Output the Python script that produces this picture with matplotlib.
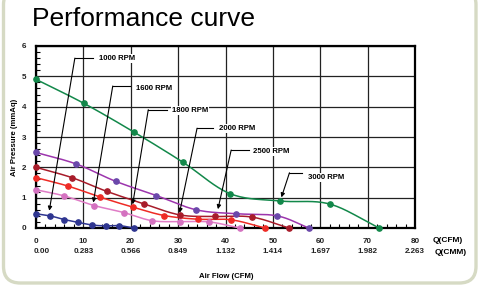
import matplotlib.pyplot as plt
import numpy as np
from matplotlib.patches import FancyBboxPatch
from matplotlib.ticker import MultipleLocator

plt.rcParams['font.family'] = ['Liberation Sans', 'DejaVu Sans']

# curve data (CFM, mmAq)
flow_1000 = [0, 3.0, 5.9, 8.8, 11.8, 14.7, 17.5, 20.6]
pres_1000 = [0.47, 0.40, 0.28, 0.19, 0.10, 0.07, 0.08, 0.0]
flow_1600 = [0, 5.9, 12.3, 18.5, 24.5, 30.4, 36.6, 43.0]
pres_1600 = [1.26, 1.06, 0.74, 0.51, 0.24, 0.21, 0.20, 0.0]
flow_1800 = [0, 6.8, 13.5, 20.4, 27.1, 34.1, 41.2, 48.3]
pres_1800 = [1.66, 1.38, 1.02, 0.69, 0.41, 0.29, 0.27, 0.0]
flow_2000 = [0, 7.6, 14.9, 22.7, 30.4, 37.7, 45.6, 53.4]
pres_2000 = [2.0, 1.66, 1.21, 0.80, 0.43, 0.38, 0.36, 0.0]
flow_2500 = [0, 8.5, 16.8, 25.4, 33.8, 42.2, 50.9, 57.6]
pres_2500 = [2.49, 2.11, 1.54, 1.07, 0.60, 0.47, 0.40, 0.0]
flow_3000 = [0, 10.1, 20.6, 31.0, 41.0, 51.6, 62.0, 72.4]
pres_3000 = [4.9, 4.11, 3.17, 2.17, 1.13, 0.89, 0.79, 0.0]

cfm_ticks = [0, 10, 20, 30, 40, 50, 60, 70, 80]
cmm_labels = ['0.00', '0.283', '0.566', '0.849', '1.132', '1.414', '1.697', '1.982', '2.263']

# (label, arrow tip, bend point, line end, text pos)
notes = [
    ('1000 RPM', (2.8, 0.57), (8.2, 5.6), (12.1, 5.6), (13.2, 5.6)),
    ('1600 RPM', (12.1, 0.84), (16.2, 4.68), (19.9, 4.68), (21.1, 4.6)),
    ('1800 RPM', (20.4, 0.78), (23.7, 3.9), (27.6, 3.9), (28.7, 3.88)),
    ('2000 RPM', (30.3, 0.5), (34.0, 3.29), (37.4, 3.29), (38.6, 3.27)),
    ('2500 RPM', (38.4, 0.62), (41.2, 2.57), (45.0, 2.57), (45.7, 2.53)),
    ('3000 RPM', (51.8, 1.01), (53.5, 1.82), (56.2, 1.82), (57.4, 1.67)),
]


def smooth(x, y, n=20):
    # catmull-rom through the points, just for drawing
    p = np.column_stack([x, y]).astype(float)
    p = np.vstack([2 * p[0] - p[1], p, 2 * p[-1] - p[-2]])
    out = []
    t = np.linspace(0, 1, n, endpoint=False)[:, None]
    for i in range(1, len(p) - 2):
        p0, p1, p2, p3 = p[i - 1], p[i], p[i + 1], p[i + 2]
        seg = 0.5 * ((2 * p1) + (-p0 + p2) * t + (2 * p0 - 5 * p1 + 4 * p2 - p3) * t ** 2
                     + (-p0 + 3 * p1 - 3 * p2 + p3) * t ** 3)
        out.append(seg)
    out.append(p[-2][None, :])
    out = np.vstack(out)
    return out[:, 0], np.clip(out[:, 1], 0, None)


fig = plt.figure(figsize=(4.79, 2.86), dpi=100)
W, H = 479.0, 286.0

box = FancyBboxPatch((3.5 / W, 3 / H), 472.5 / W, 295 / H,
                     boxstyle='round,pad=0,rounding_size=0.035',
                     transform=fig.transFigure, facecolor='white',
                     edgecolor='#d6dac4', linewidth=2.4, mutation_aspect=W / H,
                     zorder=-5)
fig.patches.append(box)

fig.text(32 / W, 1 - 19 / H, 'Performance curve', fontsize=19, va='center', ha='left')

ax = fig.add_axes([36 / W, 1 - 228 / H, 379 / W, 182 / H])
ax.set_zorder(2)
ax.set_facecolor('white')

series = [
    (flow_1000, pres_1000, '#2e3590', '#2e3590'),
    (flow_1600, pres_1600, '#e07cc6', '#d472c0'),
    (flow_1800, pres_1800, '#ee2b25', '#ee2b25'),
    (flow_2000, pres_2000, '#a81c2a', '#a81c2a'),
    (flow_2500, pres_2500, '#9c35ad', '#6a48aa'),
    (flow_3000, pres_3000, '#12884a', '#12884a'),
]
for fx, py, lc, mc in series:
    sx, sy = smooth(fx, py)
    ax.plot(sx, sy, color=lc, lw=1.1, zorder=3, clip_on=False)
    ax.plot(fx, py, 'o', color=mc, ms=3.8, zorder=4, clip_on=False)

for label, tip, bend, end, tpos in notes:
    ax.plot([bend[0], end[0]], [bend[1], end[1]], color='black', lw=0.8, zorder=5)
    ax.annotate('', xy=tip, xytext=bend,
                arrowprops=dict(arrowstyle='-|>', color='black', lw=0.8,
                                mutation_scale=6, shrinkA=0, shrinkB=0), zorder=5)
    ax.text(tpos[0], tpos[1], label, fontsize=5.6, fontweight='bold',
            va='center', ha='left', zorder=6,
            bbox=dict(facecolor='white', edgecolor='none', pad=0.8))

ax.set_xlim(0, 80)
ax.set_ylim(0, 6)
ax.set_xticks(cfm_ticks)
ax.set_xticklabels([str(v) for v in cfm_ticks])
ax.set_yticks(range(0, 7))
ax.xaxis.set_minor_locator(MultipleLocator(2))
ax.yaxis.set_minor_locator(MultipleLocator(0.2))
ax.tick_params(which='both', direction='in', top=False, right=False)
ax.tick_params(which='major', length=0, labelsize=5.8, pad=7)
ax.tick_params(which='minor', length=3, width=0.8)
for lab in ax.get_xticklabels() + ax.get_yticklabels():
    lab.set_fontweight('bold')
    lab.set_color('#222222')
ax.grid(True, which='major', color='#222222', lw=0.9)
for s in ax.spines.values():
    s.set_linewidth(1.6)
    s.set_color('black')

for v, t in zip(cfm_ticks, cmm_labels):
    ax.text(v + (1.2 if v == 0 else 0), -0.77, t, fontsize=5.8, fontweight='bold',
            ha='center', va='center', color='#222222')

fig.text(448 / W, 1 - 241 / H, 'Q(CFM)', fontsize=6, fontweight='bold', ha='center', va='center')
fig.text(451 / W, 1 - 252 / H, 'Q(CMM)', fontsize=6, fontweight='bold', ha='center', va='center')
fig.text(226 / W, 1 - 276 / H, 'Air Flow (CFM)', fontsize=5.6, fontweight='bold', ha='center', va='center')
fig.text(14 / W, 1 - 137 / H, 'Air Pressure (mmAq)', fontsize=5.6, fontweight='bold',
         ha='center', va='center', rotation=90)

fig.savefig('out.png', dpi=100)
